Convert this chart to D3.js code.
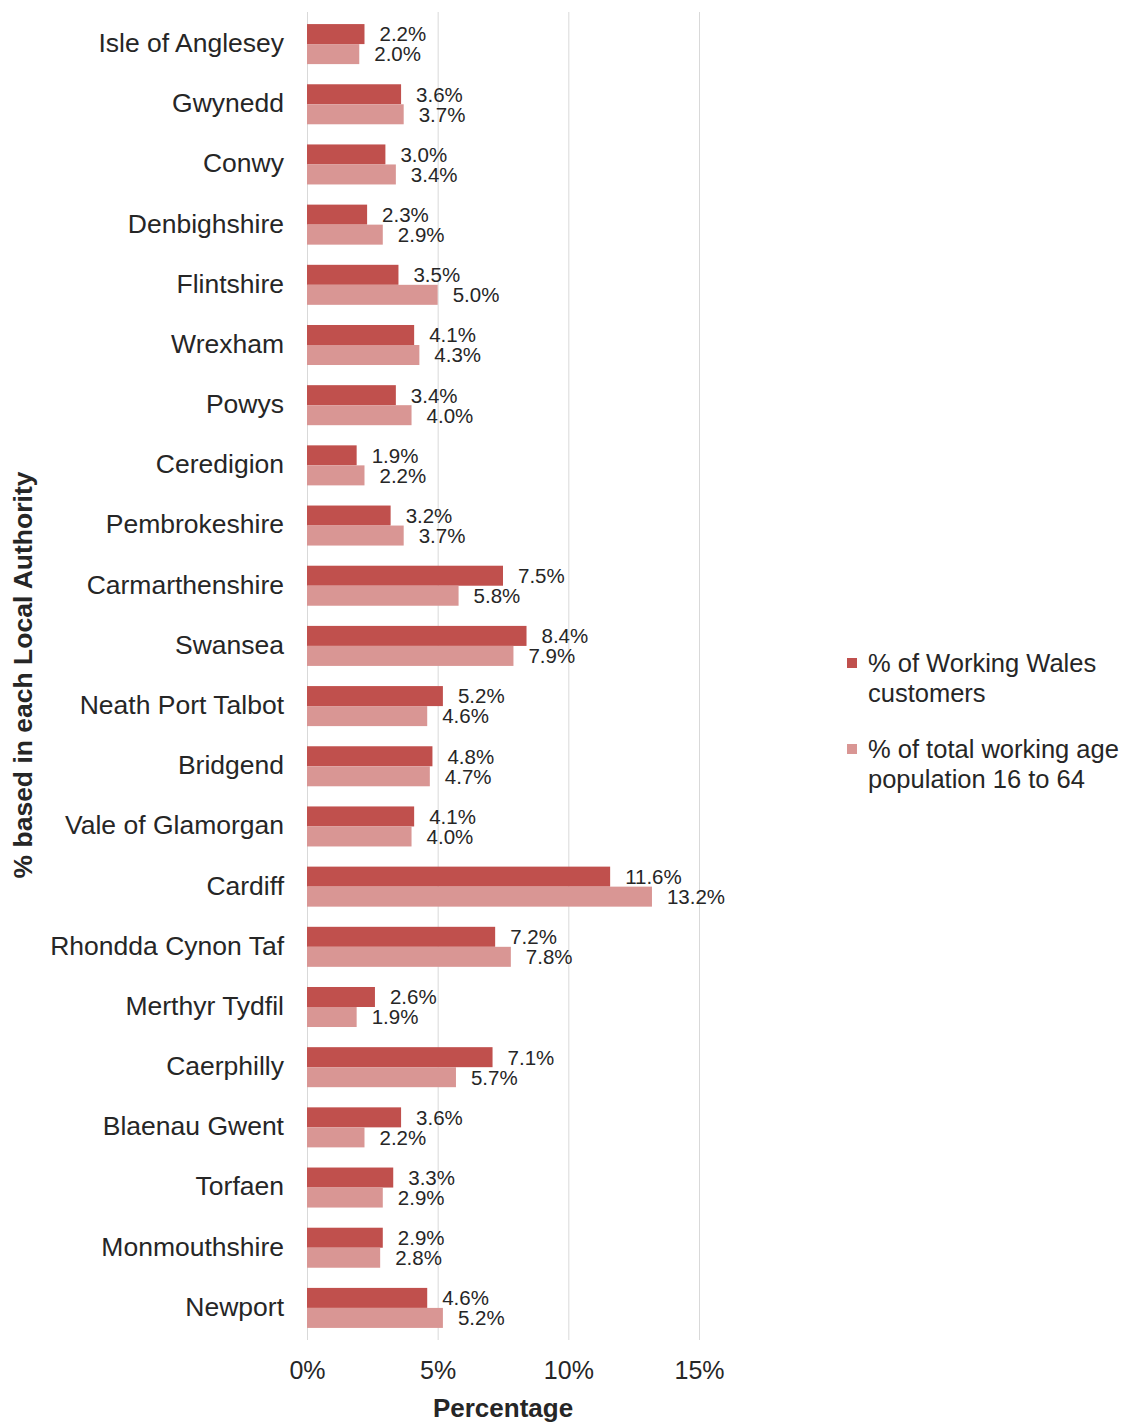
<!DOCTYPE html>
<html>
<head>
<meta charset="utf-8">
<script src="https://cdn.jsdelivr.net/npm/d3@7"></script>
<style>
  html, body { margin: 0; padding: 0; background: #ffffff; }
  svg { display: block; }
  text { font-family: "Liberation Sans", Arial, sans-serif; fill: #262626; }
</style>
</head>
<body>
<svg id="chart" width="1134" height="1422"></svg>
<script>
// Local authorities, top to bottom
const authorities = [
  "Isle of Anglesey", "Gwynedd", "Conwy", "Denbighshire", "Flintshire", "Wrexham",
  "Powys", "Ceredigion", "Pembrokeshire", "Carmarthenshire", "Swansea",
  "Neath Port Talbot", "Bridgend", "Vale of Glamorgan", "Cardiff",
  "Rhondda Cynon Taf", "Merthyr Tydfil", "Caerphilly", "Blaenau Gwent",
  "Torfaen", "Monmouthshire", "Newport"
];

// % of Working Wales customers
const customers = [
  2.2, 3.6, 3.0, 2.3, 3.5, 4.1, 3.4, 1.9, 3.2, 7.5, 8.4,
  5.2, 4.8, 4.1, 11.6, 7.2, 2.6, 7.1, 3.6, 3.3, 2.9, 4.6
];

// % of total working age population 16 to 64
const population = [
  2.0, 3.7, 3.4, 2.9, 5.0, 4.3, 4.0, 2.2, 3.7, 5.8, 7.9,
  4.6, 4.7, 4.0, 13.2, 7.8, 1.9, 5.7, 2.2, 2.9, 2.8, 5.2
];

const seriesNames = ["% of Working Wales customers", "% of total working age population 16 to 64"];
const legendLines = [["% of Working Wales", "customers"], ["% of total working age", "population 16 to 64"]];
const xTicks = [0, 5, 10, 15];

const colors = ["#c0504d", "#d99694"];

const svg = d3.select("#chart");
const plot = { left: 307, right: 699, top: 14, bottom: 1338 };

const x = d3.scaleLinear().domain([0, 15]).range([plot.left, plot.right]);
const y = d3.scaleBand().domain(authorities).range([plot.top, plot.bottom]).paddingInner(0.335).paddingOuter(0.1675);
const inner = d3.scaleBand().domain([0, 1]).range([0, y.bandwidth()]);

// Vertical gridlines
svg.append("g")
  .selectAll("line")
  .data(xTicks)
  .join("line")
  .attr("x1", d => x(d) + 0.5).attr("x2", d => x(d) + 0.5)
  .attr("y1", 12).attr("y2", 1340)
  .attr("stroke", "#d9d9d9").attr("stroke-width", 1);

// X axis tick labels
const xAxis = d3.axisBottom(x).tickValues(xTicks).tickFormat(d => d + "%").tickSize(0).tickPadding(0);
const gx = svg.append("g").attr("transform", `translate(0, 1361)`).call(xAxis);
gx.select(".domain").remove();
gx.selectAll("text").attr("font-size", 25).attr("fill", "#262626")
  .style("font-family", "'Liberation Sans', Arial, sans-serif").attr("dy", "0.71em");

// Category labels
const yAxis = d3.axisLeft(y).tickSize(0).tickPadding(0);
const gy = svg.append("g").attr("transform", `translate(284, 0)`).call(yAxis);
gy.select(".domain").remove();
gy.selectAll("text").attr("font-size", 26.5).attr("fill", "#262626")
  .style("font-family", "'Liberation Sans', Arial, sans-serif").attr("dy", "0.3em");

// Bars and value labels
const series = [customers, population];
series.forEach((vals, s) => {
  const g = svg.append("g");
  g.selectAll("rect")
    .data(vals)
    .join("rect")
    .attr("x", x(0))
    .attr("y", (d, i) => y(authorities[i]) + inner(s))
    .attr("width", d => x(d) - x(0))
    .attr("height", inner.bandwidth())
    .attr("fill", colors[s]);
  g.selectAll("text")
    .data(vals)
    .join("text")
    .attr("x", d => x(d) + 15)
    .attr("y", (d, i) => y(authorities[i]) + inner(s) + inner.bandwidth() / 2)
    .attr("dy", "0.36em")
    .attr("font-size", 20.5)
    .text(d => d.toFixed(1) + "%");
});

// Axis titles
svg.append("text")
  .attr("x", (plot.left + plot.right) / 2).attr("y", 1417)
  .attr("text-anchor", "middle").attr("font-size", 26).attr("font-weight", "bold")
  .attr("fill", "#000").text("Percentage");

svg.append("text")
  .attr("transform", "translate(32, 675) rotate(-90)")
  .attr("text-anchor", "middle").attr("font-size", 26.5).attr("font-weight", "bold")
  .attr("fill", "#000").text("% based in each Local Authority");

// Legend
const legend = svg.append("g");
const legendTop = [663, 749];
seriesNames.forEach((name, s) => {
  legend.append("rect")
    .attr("x", 847).attr("y", legendTop[s] - 5)
    .attr("width", 10).attr("height", 10)
    .attr("fill", colors[s]);
  legendLines[s].forEach((line, j) => {
    legend.append("text")
      .attr("x", 868).attr("y", legendTop[s] + j * 30)
      .attr("dy", "0.35em").attr("font-size", 25.5)
      .text(line);
  });
});
</script>
</body>
</html>
